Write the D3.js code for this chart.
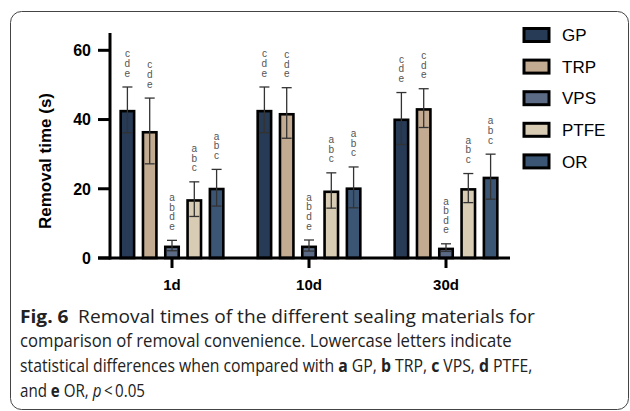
<!DOCTYPE html>
<html><head><meta charset="utf-8">
<script src="https://cdn.jsdelivr.net/npm/d3@7"></script>
<style>body{margin:0;background:#fff}svg{display:block}</style>
</head><body>
<svg id="c" width="630" height="411"></svg>
<script>
const categories = ["1d", "10d", "30d"];
const series = ["GP", "TRP", "VPS", "PTFE", "OR"];
const meanGP   = [42.8, 42.8, 40.3];
const meanTRP  = [36.7, 41.9, 43.3];
const meanVPS  = [3.6, 3.6, 3.0];
const meanPTFE = [17.0, 19.5, 20.2];
const meanOR   = [20.3, 20.4, 23.5];
const sdGP   = [6.6, 6.6, 7.5];
const sdTRP  = [9.5, 7.3, 5.6];
const sdVPS  = [1.5, 1.6, 1.1];
const sdPTFE = [5.0, 5.1, 4.2];
const sdOR   = [5.3, 5.9, 6.5];
const lettersGP = ["c", "d", "e"];
const lettersTRP = ["c", "d", "e"];
const lettersVPS = ["a", "b", "d", "e"];
const lettersPTFE = ["a", "b", "c"];
const lettersOR = ["a", "b", "c"];
const yTicks = [0, 20, 40, 60];
const colors = ["#273a56", "#c3ab92", "#5b6b86", "#d9ccb4", "#3b5575"];

const means = [meanGP, meanTRP, meanVPS, meanPTFE, meanOR];
const sds = [sdGP, sdTRP, sdVPS, sdPTFE, sdOR];
const letters = [lettersGP, lettersTRP, lettersVPS, lettersPTFE, lettersOR];

const svg = d3.select("#c");
const AR = "Liberation Sans, Arial, sans-serif";

// frame
svg.append("rect").attr("x", 10.5).attr("y", 11.5).attr("width", 618).attr("height", 398)
  .attr("rx", 11).attr("fill", "none").attr("stroke", "#444").attr("stroke-width", 1);

const y = d3.scaleLinear().domain([0, 65]).range([258, 33]);
const x0 = d3.scaleBand().domain(categories).range([103.5, 514.5]);
const x1 = d3.scaleBand().domain(series).range([-55.75, 55.75]).paddingInner(0.28).paddingOuter(0.14);

const data = [];
categories.forEach((c, ci) => series.forEach((s, si) => {
  data.push({c, s, si, m: means[si][ci], sd: sds[si][ci], L: letters[si]});
}));

const cx = d => x0(d.c) + x0.bandwidth() / 2 + x1(d.s) + x1.bandwidth() / 2;
const sw = 2.6;

const g = svg.append("g");
g.selectAll("rect.bar").data(data).join("rect").attr("class", "bar")
  .attr("x", d => cx(d) - x1.bandwidth() / 2 + sw / 2)
  .attr("width", x1.bandwidth() - sw)
  .attr("y", d => y(d.m) + sw / 2)
  .attr("height", d => y(0) - y(d.m) - sw / 2)
  .attr("fill", d => colors[d.si]).attr("stroke", "#000").attr("stroke-width", sw);

const eb = g.selectAll("g.eb").data(data).join("g").attr("class", "eb")
  .attr("stroke", "#333").attr("stroke-width", 1.3);
eb.append("line").attr("x1", cx).attr("x2", cx).attr("y1", d => y(d.m - d.sd)).attr("y2", d => y(d.m + d.sd));
eb.append("line").attr("x1", d => cx(d) - 5).attr("x2", d => cx(d) + 5).attr("y1", d => y(d.m + d.sd)).attr("y2", d => y(d.m + d.sd));
eb.append("line").attr("x1", d => cx(d) - 5).attr("x2", d => cx(d) + 5).attr("y1", d => y(d.m - d.sd)).attr("y2", d => y(d.m - d.sd));

data.forEach(d => {
  const n = d.L.length;
  d.L.forEach((l, i) => {
    svg.append("text").attr("x", cx(d)).attr("y", y(d.m + d.sd) - 10.5 - (n - 1 - i) * 9.6)
      .attr("text-anchor", "middle").attr("font-family", AR)
      .attr("font-size", 10).attr("fill", "#555").text(l);
  });
});

// axes
svg.append("line").attr("x1", 110).attr("x2", 110).attr("y1", y(65)).attr("y2", y(0) + 1.5)
  .attr("stroke", "#000").attr("stroke-width", 3);
svg.append("line").attr("x1", 98).attr("x2", 510).attr("y1", y(0)).attr("y2", y(0))
  .attr("stroke", "#000").attr("stroke-width", 3);
yTicks.forEach(t => {
  svg.append("line").attr("x1", 98).attr("x2", 110).attr("y1", y(t)).attr("y2", y(t))
    .attr("stroke", "#000").attr("stroke-width", 3);
  svg.append("text").attr("x", 91).attr("y", y(t)).attr("dy", "0.36em").attr("text-anchor", "end")
    .attr("font-family", AR).attr("font-weight", "bold")
    .attr("font-size", 16).attr("fill", "#000").text(t);
});
categories.forEach(c => {
  const xc = x0(c) + x0.bandwidth() / 2;
  svg.append("line").attr("x1", xc).attr("x2", xc).attr("y1", y(0)).attr("y2", y(0) + 10)
    .attr("stroke", "#000").attr("stroke-width", 3);
  svg.append("text").attr("x", xc).attr("y", 290).attr("text-anchor", "middle")
    .attr("font-family", AR).attr("font-weight", "bold")
    .attr("font-size", 15).attr("fill", "#000").text(c);
});
svg.append("text").attr("transform", "translate(51,161) rotate(-90)").attr("text-anchor", "middle")
  .attr("font-family", AR).attr("font-weight", "bold")
  .attr("font-size", 17).attr("fill", "#000").text("Removal time (s)");

// legend
series.forEach((s, i) => {
  const ly = 35 + i * 31.6;
  svg.append("rect").attr("x", 524).attr("y", ly - 6.5).attr("width", 25).attr("height", 13)
    .attr("fill", colors[i]).attr("stroke", "#000").attr("stroke-width", 3);
  svg.append("text").attr("x", 562).attr("y", ly).attr("dy", "0.36em")
    .attr("font-family", AR).attr("font-size", 17)
    .attr("fill", "#000").text(s);
});

// caption: each line scaled horizontally to its width in the reference
const cap = svg.append("g").attr("font-family", "Open Sans, Noto Sans, sans-serif").attr("font-size", 18).attr("fill", "#222");
function capLine(yb, target, parts) {
  const gg = cap.append("g");
  const t = gg.append("text").attr("x", 0).attr("y", 0);
  parts.forEach(p => {
    const ts = t.append("tspan").text(p[0]);
    if (p[1] === "b") ts.attr("font-weight", "bold");
    if (p[1] === "i") ts.attr("font-style", "italic");
  });
  const w = t.node().getComputedTextLength();
  gg.attr("transform", `translate(20,${yb}) scale(${target / w},1)`);
}
capLine(322.5, 515, [["Fig. 6", "b"], ["\u2002Removal times of the different sealing materials for"]]);
capLine(347, 492, [["comparison of removal convenience. Lowercase letters indicate"]]);
capLine(372, 513, [["statistical differences when compared with "], ["a", "b"], [" GP, "], ["b", "b"], [" TRP, "], ["c", "b"], [" VPS, "], ["d", "b"], [" PTFE,"]]);
capLine(396.5, 125, [["and "], ["e", "b"], [" OR, "], ["p", "i"], ["\u2009<\u20090.05"]]);
</script>
</body></html>
